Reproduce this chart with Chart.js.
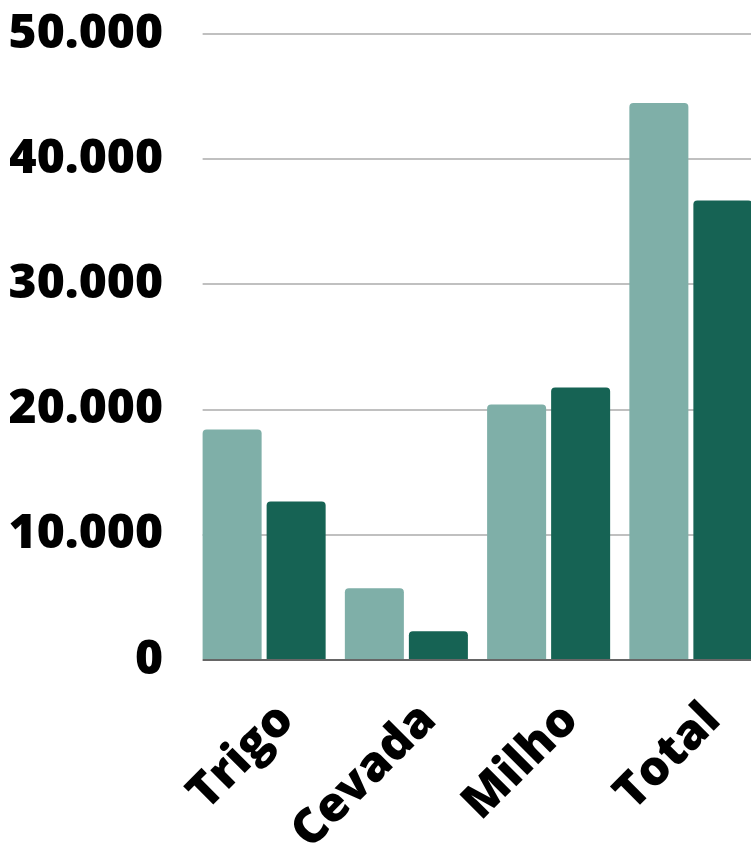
<!DOCTYPE html>
<html>
<head>
<meta charset="utf-8">
<script src="https://cdn.jsdelivr.net/npm/chart.js@4"></script>
<style>
  body { margin: 0; overflow: hidden; background: #fff; }
</style>
</head>
<body>
<canvas id="barchart" width="762" height="844"></canvas>
<script>
const categorias = ["Trigo", "Cevada", "Milho", "Total"];
const serieClara = [18420, 5740, 20410, 44490];
const serieEscura = [12660, 2300, 21770, 36710];
const yTicks = [0, 10000, 20000, 30000, 40000, 50000];

// grid lines start at the first bar's left edge, like the original
const recorteGrade = {
  id: "recorteGrade",
  beforeDatasetsDraw(chart) {
    const bar = chart.getDatasetMeta(0).data[0];
    const { left, top, bottom } = chart.chartArea;
    const ctx = chart.ctx;
    ctx.save();
    ctx.fillStyle = "#fff";
    ctx.fillRect(left - 1, top - 2, bar.x - bar.width / 2 - left + 1, bottom - top + 4);
    ctx.restore();
  }
};

new Chart("barchart", {
  type: "bar",
  data: {
    labels: categorias,
    datasets: [{
      data: serieClara,
      backgroundColor: "#7fafa8",
      borderRadius: { topLeft: 4, topRight: 4 },
      borderSkipped: "start"
    }, {
      data: serieEscura,
      backgroundColor: "#166354",
      borderRadius: { topLeft: 4, topRight: 4 },
      borderSkipped: "start"
    }]
  },
  options: {
    responsive: false,
    animation: false,
    categoryPercentage: 0.9,
    barPercentage: 0.922,
    layout: { padding: { left: 10, top: 34, right: 0, bottom: 0 } },
    scales: {
      x: {
        grid: { display: false },
        border: { color: "#666666", width: 2 },
        ticks: {
          color: "#000",
          font: { family: "'Open Sans'", size: 48, weight: 800 },
          minRotation: 45,
          maxRotation: 45,
          autoSkip: false,
          padding: 24,
          labelOffset: 22
        },
        afterFit: s => { s.height = 184; }
      },
      y: {
        min: 0,
        max: 50000,
        border: { display: false },
        grid: { color: "#c0c0c0", lineWidth: 2, drawTicks: false },
        afterBuildTicks: s => { s.ticks = yTicks.map(v => ({ value: v })); },
        afterFit: s => { s.width = 183; s.paddingTop = 0; s.paddingBottom = 0; },
        ticks: {
          color: "#000",
          padding: 30,
          font: { family: "'Open Sans'", size: 48, weight: 800 },
          callback: v => v.toLocaleString("de-DE")
        }
      }
    },
    plugins: {
      legend: { display: false },
      tooltip: { enabled: false }
    }
  },
  plugins: [recorteGrade]
});
</script>
</body>
</html>
